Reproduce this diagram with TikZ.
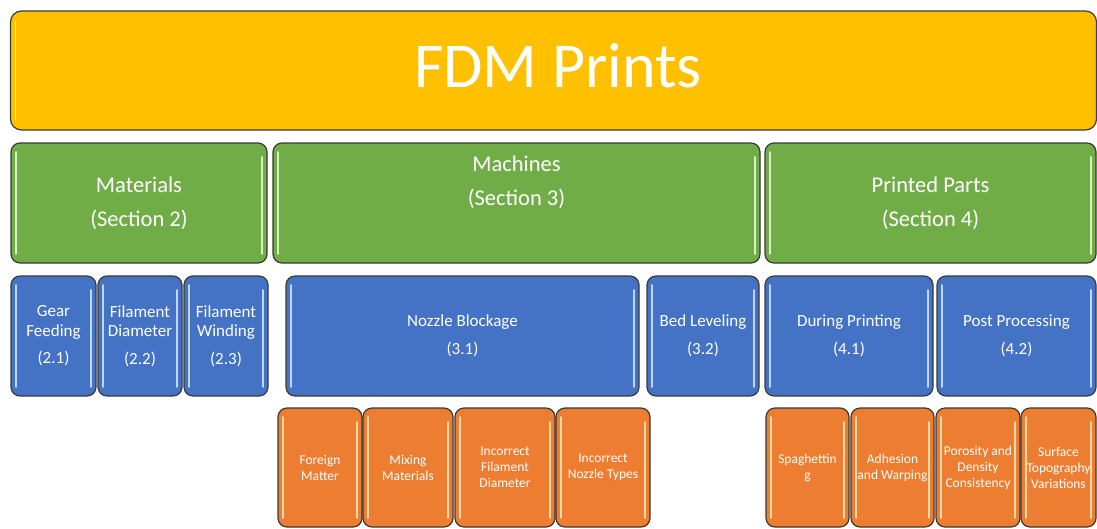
\documentclass[tikz,border=0pt]{standalone}
\usepackage{fontspec}
\setmainfont{Carlito}
\definecolor{cyel}{HTML}{FFC000}
\definecolor{cyellt}{HTML}{FFF3A8}
\definecolor{cgrn}{HTML}{70AD47}
\definecolor{cgrnlt}{HTML}{D6F0C2}
\definecolor{cblu}{HTML}{4472C4}
\definecolor{cblult}{HTML}{BFD6F4}
\definecolor{cora}{HTML}{ED7D31}
\definecolor{coralt}{HTML}{FFD9A6}
\definecolor{cedge}{HTML}{3A3A3A}
\tikzset{
  boxbase/.style={draw=cedge, line width=1.2pt, rounded corners=9pt, text=white,
    align=center, inner sep=0pt, outer sep=0pt},
  stripe/.style={line width=1.6pt, line cap=round},
  titletxt/.style={font=\fontsize{64}{68}\selectfont},
  grntxt/.style={font=\fontsize{22.5}{34.5}\selectfont},
  blutxt/.style={font=\fontsize{17}{19.5}\selectfont},
  oratxt/.style={font=\fontsize{13.5}{16}\selectfont},
}
% name, x1, y1, x2, y2, colour, text style, text
\newcommand\mkbox[8]{%
  \node[boxbase, fill=#6, #7, minimum width={#4-#2}, minimum height={#5-#3}]
    (#1) at ({(#2+#4)/2},{(#3+#5)/2}) {#8};
  \draw[stripe, draw=#6lt] ([xshift=5pt,yshift=-9pt]#1.north west) -- ([xshift=5pt,yshift=9pt]#1.south west);
  \draw[stripe, draw=#6lt] ([xshift=-5pt,yshift=-14pt]#1.north east) -- ([xshift=-5pt,yshift=9pt]#1.south east);
}
\begin{document}
\begin{tikzpicture}[x=1pt,y=-1pt]
\useasboundingbox (0,0) rectangle (1097,528);
\fill[white] (0,0) rectangle (1097,528);
% title
\node[boxbase, fill=cyel, minimum width=1086, minimum height=119, rounded corners=11pt]
  (title) at (553.5,70.5) {};
\node[titletxt, text=white, inner sep=0pt] (titlelbl) at (558,66) {FDM Prints};
\draw[stripe, draw=cyellt] ([xshift=5pt,yshift=-10pt]title.north west) -- ([xshift=5pt,yshift=10pt]title.south west);
% sections
\mkbox{mat}{11}{143}{267}{263}{cgrn}{grntxt}{Materials\\(Section 2)}
\mkbox{mac}{273}{143}{760}{263}{cgrn}{grntxt}{Machines\\(Section 3)\\\strut}
\mkbox{prt}{765}{143}{1096}{263}{cgrn}{grntxt}{Printed Parts\\(Section 4)}
% subsections
\mkbox{gear}{11}{276}{96}{396}{cblu}{blutxt}{Gear\\Feeding\\[8pt](2.1)}
\mkbox{fdia}{98}{276}{182}{396}{cblu}{blutxt}{Filament\\Diameter\\[8pt](2.2)}
\mkbox{fwin}{184}{276}{268}{396}{cblu}{blutxt}{Filament\\Winding\\[8pt](2.3)}
\mkbox{noz}{286}{276}{639}{396}{cblu}{blutxt}{Nozzle Blockage\\[8pt](3.1)}
\mkbox{bed}{647}{276}{759}{396}{cblu}{blutxt}{Bed Leveling\\[8pt](3.2)}
\mkbox{dur}{765}{276}{933}{396}{cblu}{blutxt}{During Printing\\[8pt](4.1)}
\mkbox{post}{937}{276}{1096}{396}{cblu}{blutxt}{Post Processing\\[8pt](4.2)}
% causes
\mkbox{forg}{278}{408}{362}{527}{cora}{oratxt}{Foreign\\Matter}
\mkbox{mix}{363}{408}{453}{527}{cora}{oratxt}{Mixing\\Materials}
\mkbox{ifd}{455}{408}{555}{527}{cora}{oratxt}{Incorrect\\Filament\\Diameter}
\mkbox{int}{556}{408}{650}{527}{cora}{oratxt}{Incorrect\\Nozzle Types}
\mkbox{spa}{766}{408}{849}{527}{cora}{oratxt}{Spaghettin\\g}
\mkbox{adh}{851}{408}{934}{527}{cora}{oratxt}{Adhesion\\and Warping}
\mkbox{por}{936}{408}{1020}{527}{cora}{oratxt}{Porosity and\\Density\\Consistency}
\mkbox{sur}{1021}{408}{1096}{527}{cora}{oratxt}{Surface\\Topography\\Variations}
\end{tikzpicture}
\end{document}
